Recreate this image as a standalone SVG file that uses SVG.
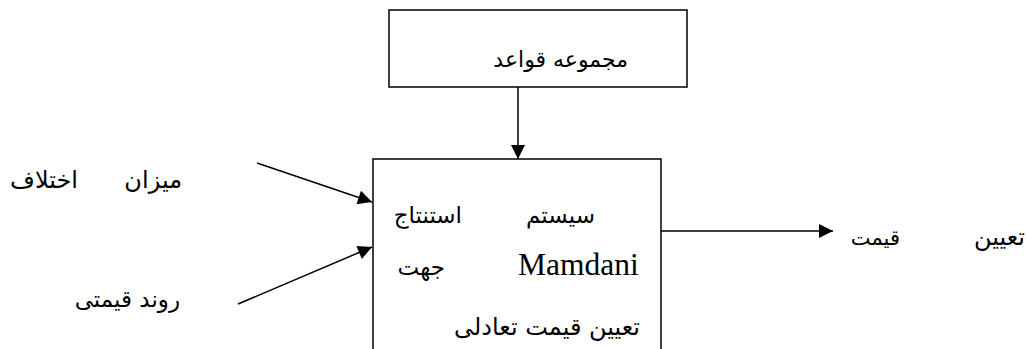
<svg xmlns="http://www.w3.org/2000/svg" width="1027" height="349" viewBox="0 0 1027 349">
<style>
.box{fill:#fff;stroke:#000;stroke-width:1.5}
.ln{stroke:#000;stroke-width:1.5;fill:none}
.fa{font-family:"DejaVu Sans",sans-serif;font-size:23px;fill:#000;direction:rtl}
.en{font-family:"Liberation Serif",serif;font-size:31.5px;fill:#000}
</style>
<defs>
<marker id="ah" viewBox="0 0 10 10" refX="10" refY="5" markerWidth="18" markerHeight="14" markerUnits="userSpaceOnUse" orient="auto">
<path d="M0,0 L10,5 L0,10 Z" fill="#000"/>
</marker>
</defs>
<rect width="1027" height="349" fill="#fff"/>
<g id="rules">
<rect class="box" x="389" y="10" width="298" height="77"/>
<text class="fa" x="628" y="67" text-anchor="start" style="font-size:22px">مجموعه قواعد</text>
</g>
<g id="inference">
<rect class="box" x="373" y="159" width="288" height="200"/>
<text class="fa" x="595" y="223" text-anchor="start">سیستم</text>
<text class="fa" x="462" y="223" text-anchor="start">استنتاج</text>
<text class="en" x="518" y="275">Mamdani</text>
<text class="fa" x="445" y="275" text-anchor="start">جهت</text>
<text class="fa" x="640" y="335" text-anchor="start" style="font-size:24px">تعیین قیمت تعادلی</text>
</g>
<g id="in1">
<text class="fa" x="182" y="188" text-anchor="start" style="font-size:24px">میزان</text>
<text class="fa" x="78" y="188" text-anchor="start" style="font-size:24px">اختلاف</text>
</g>
<g id="in2">
<text class="fa" x="180" y="307" text-anchor="start">روند قیمتی</text>
</g>
<g id="out">
<text class="fa" x="900" y="245" text-anchor="start" style="font-size:21px">قیمت</text>
<text class="fa" x="1025" y="245" text-anchor="start" style="font-size:24px">تعیین</text>
</g>
<g id="connectors">
<line class="ln" x1="518" y1="87" x2="518" y2="159" marker-end="url(#ah)"/>
<line class="ln" x1="257" y1="163" x2="372" y2="202" marker-end="url(#ah)"/>
<line class="ln" x1="238" y1="304" x2="372" y2="247" marker-end="url(#ah)"/>
<line class="ln" x1="661" y1="231" x2="833" y2="231" marker-end="url(#ah)"/>
</g>
</svg>
